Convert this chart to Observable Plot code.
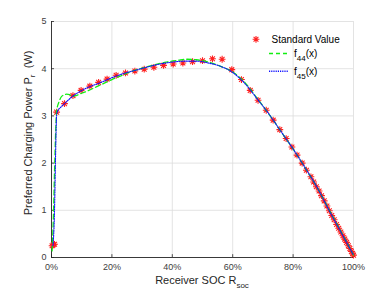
<!DOCTYPE html>
<html>
<head>
<meta charset="utf-8">
<script src="https://cdn.jsdelivr.net/npm/d3@7"></script>
<script src="https://cdn.jsdelivr.net/npm/@observablehq/plot@0.6"></script>
<style>
  html, body { margin: 0; padding: 0; background: #fff; }
  #chart { width: 391px; height: 293px; }
</style>
</head>
<body>
<div id="chart"></div>
<script>
// ---- data (x in % SOC, y in W) ----
const xTicks = [0, 20, 40, 60, 80, 100];
const xTickLabels = ["0%", "20%", "40%", "60%", "80%", "100%"];
const yTicks = [0, 1, 2, 3, 4, 5];

const stdX = [0.2, 0.6, 1.0, 1.7, 4.3, 7.1, 9.8, 12.7, 15.6, 18.4, 21.4, 24.5, 27.6, 30.7, 33.9, 37.1, 40.3, 43.5, 46.7, 50.0, 53.3, 56.5, 59.7, 62.9, 65.8, 68.4, 71.1, 73.4, 75.6, 77.7, 79.6, 81.3, 83.0, 84.4, 85.9,
  86.8, 87.7, 88.6, 89.4, 90.3, 91.2, 92.0, 92.8, 93.6, 94.4, 95.1, 95.8, 96.5, 97.1, 97.7, 98.3, 98.8, 99.3, 99.7, 100];
const stdY = [0.25, 0.27, 0.28, 3.08, 3.26, 3.43, 3.54, 3.63, 3.71, 3.78, 3.86, 3.91, 3.95, 3.99, 4.03, 4.07, 4.10, 4.12, 4.15, 4.17, 4.21, 4.20, 3.98, 3.77, 3.54, 3.33, 3.12, 2.91, 2.71, 2.52, 2.34, 2.17, 2.00, 1.85, 1.71,
  1.60, 1.50, 1.41, 1.31, 1.20, 1.09, 0.99, 0.89, 0.80, 0.70, 0.62, 0.54, 0.46, 0.39, 0.32, 0.25, 0.19, 0.13, 0.08, 0.05];

const f44X = [0.2, 0.6, 1.0, 1.4, 1.7, 2.5, 3.2, 4, 5, 6, 7, 8, 10, 12, 14, 16, 18, 20, 23, 26, 30, 34, 38, 42, 45, 48, 52, 56, 60, 64, 68, 72, 76, 80, 84, 88, 92, 96, 100];
const f44Y = [0.14, 0.8, 1.8, 2.7, 3.1, 3.3, 3.4, 3.44, 3.46, 3.45, 3.42, 3.43, 3.48, 3.53, 3.59, 3.65, 3.71, 3.77, 3.85, 3.93, 4.01, 4.08, 4.14, 4.18, 4.20, 4.19, 4.14, 4.05, 3.93, 3.71, 3.38, 3.04, 2.67, 2.30, 1.90, 1.48, 1.00, 0.53, 0.05];

const f45X = [0.5, 1.0, 1.3, 1.7, 2.0, 3.0, 4.3, 7.1, 9.8, 12.7, 16, 20, 24, 28, 32, 36, 40, 44, 48, 52, 56, 60, 64, 68, 72, 76, 80, 84, 88, 92, 96, 100];
const f45Y = [0.25, 1.0, 2.0, 3.02, 3.10, 3.18, 3.26, 3.42, 3.53, 3.62, 3.70, 3.81, 3.90, 3.97, 4.04, 4.10, 4.14, 4.16, 4.16, 4.12, 4.05, 3.92, 3.69, 3.37, 3.04, 2.67, 2.30, 1.90, 1.48, 0.99, 0.52, 0.05];

const stdData = stdX.map((x, i) => ({x, y: stdY[i]}));
const f44Data = f44X.map((x, i) => ({x, y: f44Y[i]}));
const f45Data = f45X.map((x, i) => ({x, y: f45Y[i]}));

// MATLAB-style '*' marker
const asterisk = {
  draw(ctx, size) {
    const r = Math.sqrt(size / Math.PI);
    const d = r * 0.7071;
    ctx.moveTo(-r, 0); ctx.lineTo(r, 0);
    ctx.moveTo(0, -r); ctx.lineTo(0, r);
    ctx.moveTo(-d, -d); ctx.lineTo(d, d);
    ctx.moveTo(-d, d); ctx.lineTo(d, -d);
  }
};

const FONT = "'Liberation Sans', Arial, Helvetica, sans-serif";
const AXC = "#262626";
const STAR = "#ff2020";
const GREEN = "#11ee11";
const BLUE = "#1010ff";

const chart = Plot.plot({
  width: 391,
  height: 293,
  marginLeft: 51,
  marginRight: 38,
  marginTop: 21,
  marginBottom: 36,
  style: {fontFamily: FONT, fontSize: "9px", color: "#404040", background: "#fff", overflow: "visible"},
  x: {domain: [0, 100], label: null},
  y: {domain: [0, 5], label: null},
  marks: [
    Plot.gridX(xTicks, {stroke: "#dcdcdc", strokeOpacity: 1, strokeWidth: 0.8}),
    Plot.gridY(yTicks, {stroke: "#dcdcdc", strokeOpacity: 1, strokeWidth: 0.8}),
    Plot.axisX(xTicks, {tickSize: 0, tickPadding: 6, tickFormat: (d) => xTickLabels[xTicks.indexOf(d)], fill: "#404040"}),
    Plot.axisY(yTicks, {tickSize: 0, tickPadding: 5, fill: "#404040"}),
    Plot.ruleX(xTicks, {x: d => d, y1: 0, y2: 0.06, stroke: AXC, strokeWidth: 0.8}),
    Plot.ruleY(yTicks, {y: d => d, x1: 0, x2: 1, stroke: AXC, strokeWidth: 0.8}),
    Plot.ruleX([0], {stroke: AXC, strokeWidth: 0.9}),
    Plot.ruleY([0], {stroke: AXC, strokeWidth: 0.9}),
    Plot.dot(stdData, {x: "x", y: "y", r: 3.4, symbol: asterisk, stroke: STAR, strokeWidth: 1.1, fill: "none"}),
    Plot.line(f44Data, {x: "x", y: "y", stroke: GREEN, strokeWidth: 1.3, strokeDasharray: "5,3", curve: "monotone-x"}),
    Plot.line(f45Data, {x: "x", y: "y", stroke: BLUE, strokeWidth: 1.1, strokeDasharray: "1.2,1.2", curve: "monotone-x"})
  ]
});

document.getElementById("chart").appendChild(chart);

const svg = d3.select(chart);

// x-axis label
const xl = svg.append("text")
  .attr("x", 202).attr("y", 284)
  .attr("text-anchor", "middle")
  .attr("font-family", FONT).attr("font-size", 11).attr("fill", AXC);
xl.append("tspan").text("Receiver SOC R");
xl.append("tspan").attr("dy", 4).attr("font-size", 8).text("soc");

// y-axis label
const yl = svg.append("text")
  .attr("transform", "translate(31.5,133) rotate(-90)")
  .attr("text-anchor", "middle")
  .attr("font-family", FONT).attr("font-size", 11).attr("fill", AXC);
yl.append("tspan").text("Preferred Charging Power P");
yl.append("tspan").attr("dy", 3.5).attr("font-size", 8).text("r");
yl.append("tspan").attr("dy", -3.5).text("\u00a0\u00a0(W)");

// legend
const lg = svg.append("g").attr("font-family", FONT).attr("font-size", 10).attr("fill", "#000").attr("text-anchor", "start");
lg.append("path")
  .attr("transform", "translate(256,39.3)")
  .attr("d", d3.symbol(asterisk, Math.PI * 3.4 * 3.4)())
  .attr("stroke", STAR).attr("stroke-width", 1.1).attr("fill", "none");
lg.append("text").attr("x", 271.5).attr("y", 42.8).text("Standard Value");

lg.append("line").attr("x1", 269).attr("x2", 288).attr("y1", 53.5).attr("y2", 53.5)
  .attr("stroke", GREEN).attr("stroke-width", 1.6).attr("stroke-dasharray", "4,3");
const t44 = lg.append("text").attr("x", 294).attr("y", 56.5);
t44.append("tspan").text("f");
t44.append("tspan").attr("dy", 4).attr("font-size", 8).text("44");
t44.append("tspan").attr("dy", -4).text("(x)");

lg.append("line").attr("x1", 269).attr("x2", 288).attr("y1", 71.2).attr("y2", 71.2)
  .attr("stroke", BLUE).attr("stroke-width", 1.5).attr("stroke-dasharray", "1.2,1");
const t45 = lg.append("text").attr("x", 294).attr("y", 74.5);
t45.append("tspan").text("f");
t45.append("tspan").attr("dy", 4).attr("font-size", 8).text("45");
t45.append("tspan").attr("dy", -4).text("(x)");
</script>
</body>
</html>
